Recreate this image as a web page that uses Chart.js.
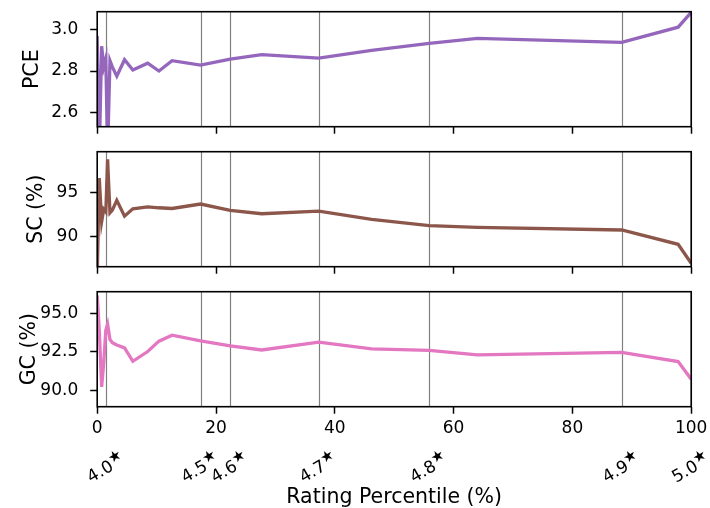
<!DOCTYPE html>
<html>
<head>
<meta charset="utf-8">
<script src="https://cdn.jsdelivr.net/npm/chart.js@4"></script>
<style>
  body { margin: 0; background: #fff; }
  canvas { position: absolute; left: 0; }
</style>
</head>
<body>
<canvas id="pceChart" width="710" height="140" style="top:0px"></canvas>
<canvas id="scChart" width="710" height="140" style="top:140px"></canvas>
<canvas id="gcChart" width="710" height="228" style="top:280px"></canvas>
<script>
// rating percentile (%) of each sample point
const percentile = [0, 0.35, 0.75, 1.1, 1.45, 1.75, 2.15, 2.55, 3.3, 4.6, 6.0, 8.5, 10.4, 12.6,
  17.4, 22.4, 27.7, 37.3, 46.2, 55.9, 64.0, 88.3, 97.8, 100];
const pce = [2.97, 2.40, 2.92, 2.82, 2.86, 2.40, 2.85, 2.82, 2.775, 2.855, 2.805, 2.838, 2.80, 2.85,
  2.829, 2.858, 2.879, 2.863, 2.90, 2.934, 2.958, 2.939, 3.012, 3.084];
const sc = [85.5, 96.6, 91.7, 93.1, 92.8, 98.7, 92.7, 93.0, 94.1, 92.33, 93.16, 93.38, 93.27, 93.19,
  93.69, 92.98, 92.6, 92.9, 91.98, 91.26, 91.08, 90.78, 89.18, 87.05];
const gc = [96.15, 93.9, 90.25, 91.8, 93.9, 94.3, 93.3, 93.1, 92.95, 92.76, 91.9, 92.53, 93.2, 93.58,
  93.21, 92.89, 92.63, 93.13, 92.70, 92.61, 92.31, 92.48, 91.88, 90.74];

// star ratings and where they fall on the percentile axis
const ratingText = ['4.0', '4.5', '4.6', '4.7', '4.8', '4.9', '5.0'];
const ratingPos = [1.55, 17.4, 22.4, 37.3, 55.9, 88.3, 100];

const xTicks = [0, 20, 40, 60, 80, 100];
const pceTicks = [2.6, 2.8, 3.0];
const scTicks = [90, 95];
const gcTicks = [90.0, 92.5, 95.0];

Chart.defaults.font.family = "'DejaVu Sans'";
Chart.defaults.color = '#000';

const FONT = "'DejaVu Sans'";

const framePlugin = {
  id: 'frame',
  beforeDatasetsDraw(chart) {
    const { ctx, chartArea: a, scales } = chart;
    ctx.save();
    ctx.strokeStyle = '#808080';
    ctx.lineWidth = 1.2;
    ratingPos.forEach(p => {
      const x = Math.round(scales.x.getPixelForValue(p)) + 0.5;
      ctx.beginPath();
      ctx.moveTo(x, a.top);
      ctx.lineTo(x, a.bottom);
      ctx.stroke();
    });
    ctx.restore();
  },
  afterDraw(chart) {
    const { ctx, chartArea: a } = chart;
    ctx.save();
    ctx.strokeStyle = '#000';
    ctx.lineWidth = 1.6;
    ctx.strokeRect(a.left, a.top, a.right - a.left, a.bottom - a.top);
    ctx.restore();
  }
};

const ratingPlugin = {
  id: 'ratings',
  afterDraw(chart) {
    const { ctx, scales } = chart;
    ctx.save();
    ratingText.forEach((t, i) => {
      const x = scales.x.getPixelForValue(ratingPos[i]);
      ctx.save();
      ctx.translate(x, 189);
      ctx.rotate(-Math.PI / 6);
      ctx.font = '17px ' + FONT;
      const w1 = ctx.measureText(t).width;
      ctx.font = '15px ' + FONT;
      const w2 = ctx.measureText('★').width;
      const start = -(w1 + w2) / 2;
      ctx.textBaseline = 'middle';
      ctx.textAlign = 'left';
      ctx.fillStyle = '#000';
      ctx.font = '17px ' + FONT;
      ctx.fillText(t, start, 0);
      ctx.font = '15px ' + FONT;
      ctx.fillText('★', start + w1, -6);
      ctx.restore();
    });
    ctx.restore();
  }
};

function noPad(s) {
  s.paddingTop = 0;
  s.paddingBottom = 0;
  s.paddingLeft = 0;
  s.paddingRight = 0;
}

function makeChart(id, values, color, yLabel, yMin, yMax, yTicks, fmt, titlePad, isBottom) {
  const canvas = document.getElementById(id);
  const xHeight = canvas.height - 126.7;
  return new Chart(canvas.getContext('2d'), {
    type: 'line',
    data: {
      datasets: [{
        data: percentile.map((p, i) => ({ x: p, y: values[i] })),
        borderColor: color,
        borderWidth: 3.3,
        pointRadius: 0,
        tension: 0,
        fill: false
      }]
    },
    options: {
      responsive: false,
      animation: false,
      layout: { padding: { left: 0, right: 18.8, top: 11.7, bottom: 0 } },
      plugins: { legend: { display: false }, tooltip: { enabled: false } },
      scales: {
        x: {
          type: 'linear',
          min: 0,
          max: 100,
          afterBuildTicks: s => { s.ticks = xTicks.map(v => ({ value: v })); },
          afterFit: s => { s.height = xHeight; noPad(s); },
          grid: { drawOnChartArea: false, drawTicks: true, tickLength: 7, tickWidth: 1.5, tickColor: '#000', color: '#000' },
          border: { display: false },
          ticks: {
            color: isBottom ? '#000' : 'rgba(0,0,0,0)',
            font: { size: 17 },
            padding: 5,
            maxRotation: 0,
            autoSkip: false
          },
          title: {
            display: isBottom,
            text: 'Rating Percentile (%)',
            font: { size: 20.5 },
            padding: { top: 0, bottom: -2 }
          }
        },
        y: {
          min: yMin,
          max: yMax,
          afterBuildTicks: s => { s.ticks = yTicks.map(v => ({ value: v })); },
          afterFit: s => { s.width = 97.2; noPad(s); },
          grid: { drawOnChartArea: false, drawTicks: true, tickLength: 7, tickWidth: 1.5, tickColor: '#000', color: '#000' },
          border: { display: false },
          ticks: {
            font: { size: 17 },
            padding: 12,
            callback: v => fmt(v)
          },
          title: {
            display: true,
            text: yLabel,
            font: { size: 20.5 },
            padding: { top: titlePad, bottom: 0 }
          }
        }
      }
    },
    plugins: isBottom ? [framePlugin, ratingPlugin] : [framePlugin]
  });
}

makeChart('pceChart', pce, '#9467bd', 'PCE', 2.531, 3.087, pceTicks, v => v.toFixed(1), 20, false);
makeChart('scChart', sc, '#8c564b', 'SC (%)', 86.67, 99.55, scTicks, v => v.toFixed(0), 24, false);
makeChart('gcChart', gc, '#e377c2', 'GC (%)', 88.97, 96.39, gcTicks, v => v.toFixed(1), 17, true);
</script>
</body>
</html>
